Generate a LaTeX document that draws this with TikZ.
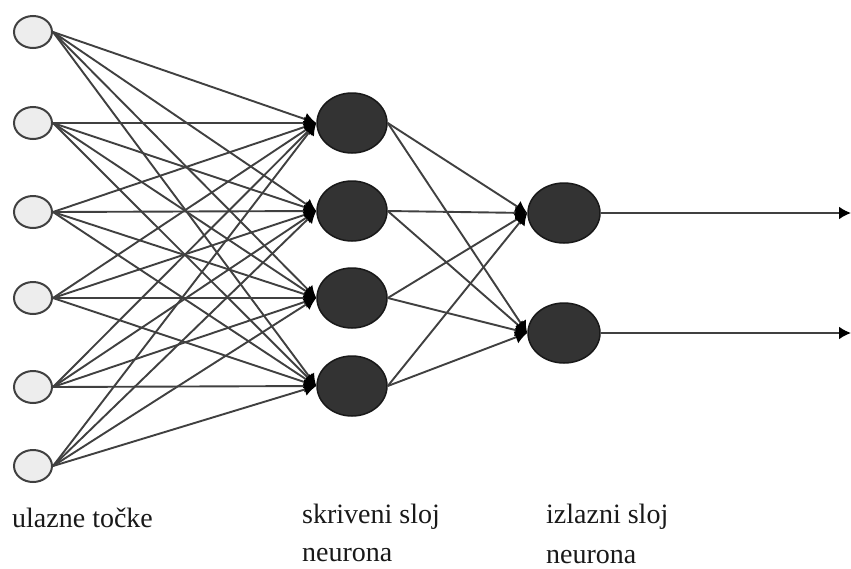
\documentclass[tikz,border=0pt]{standalone}
\usepackage{fontspec}
\setmainfont{Liberation Serif}
\usetikzlibrary{shapes.geometric,arrows.meta}
\begin{document}
\begin{tikzpicture}[x=1pt,y=-1pt,
  inp/.style={ellipse,draw=black!75,line width=2pt,fill=black!7,minimum width=38pt,minimum height=32pt,inner sep=0pt},
  hid/.style={ellipse,draw=black!90,line width=1.5pt,fill=black!80,minimum width=70pt,minimum height=60pt,inner sep=0pt},
  conn/.style={draw=black!75,line width=1.9pt,-{Latex[length=12pt,width=13pt,color=black]}},
  lbl/.style={font=\fontsize{28}{34}\selectfont,anchor=base west,inner sep=0pt,text=black!90}]
\useasboundingbox (0,0) rectangle (851,568);
\fill[white] (0,0) rectangle (851,568);
\foreach \i/\y in {1/32,2/123,3/212,4/298,5/387,6/466}
  \node[inp] (i\i) at (33,\y) {};
\foreach \j/\y in {1/123,2/211,3/298,4/386}
  \node[hid] (h\j) at (352,\y) {};
\foreach \k/\y in {1/213,2/333}
  \node[hid,minimum width=72pt] (o\k) at (564,\y) {};
\coordinate (e1) at (851,213);
\coordinate (e2) at (851,333);
\foreach \i in {1,...,6}
  \foreach \j in {1,...,4}
    \draw[conn] (i\i.east) -- (h\j.west);
\foreach \j in {1,...,4}
  \foreach \k in {1,2}
    \draw[conn] (h\j.east) -- (o\k.west);
\draw[conn] (o1.east) -- (e1);
\draw[conn] (o2.east) -- (e2);
\node[lbl] (t1) at (12,527) {ulazne točke};
\node[lbl] (t2) at (302,523) {skriveni sloj};
\node[lbl] (t3) at (302,561) {neurona};
\node[lbl] (t4) at (546,523) {izlazni sloj};
\node[lbl] (t5) at (546,563) {neurona};
\end{tikzpicture}
\end{document}
